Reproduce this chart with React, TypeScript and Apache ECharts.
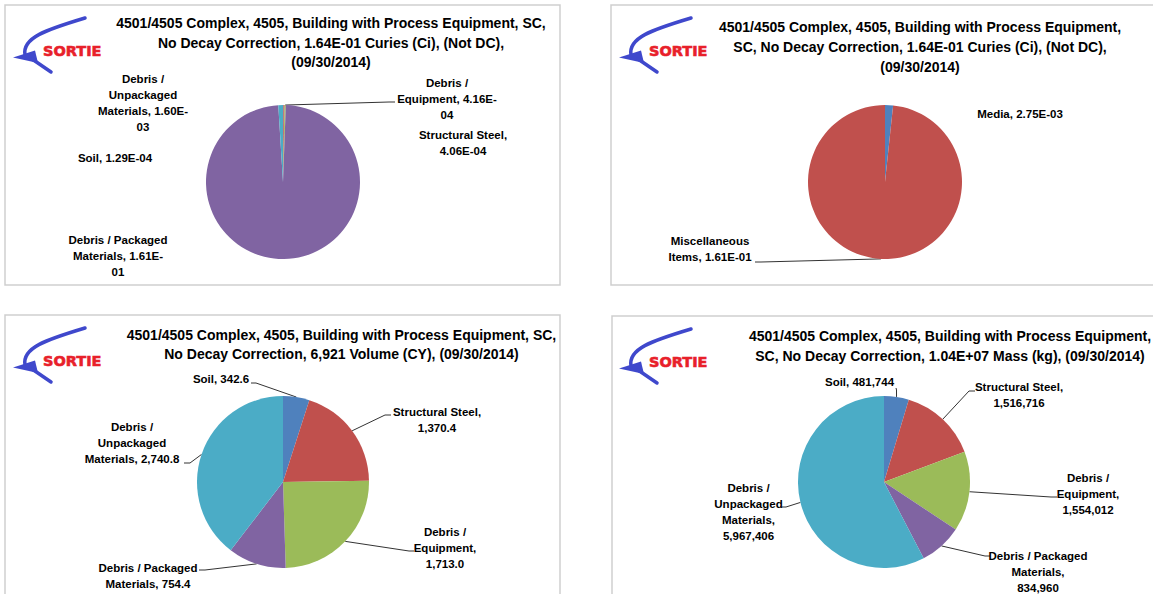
import React, { useEffect, useRef } from "react";
import * as echarts from "echarts";

// ---------- data ----------
const PALETTE = ["#4F81BD", "#C0504D", "#9BBB59", "#8064A2", "#4BACC6"];

const wasteCategories = [
  "Soil",
  "Structural Steel",
  "Debris / Equipment",
  "Debris / Packaged Materials",
  "Debris / Unpackaged Materials",
];
const curiesByCategory = [1.29e-4, 4.06e-4, 4.16e-4, 1.61e-1, 1.6e-3];

const containerCategories = ["Media", "Miscellaneous Items"];
const curiesByContainer = [2.75e-3, 1.61e-1];

const volumeByCategory = [342.6, 1370.4, 1713.0, 754.4, 2740.8];
const massByCategory = [481744, 1516716, 1554012, 834960, 5967406];

const titleCuriesCategory = [
  "4501/4505 Complex, 4505, Building with Process Equipment, SC,",
  "No Decay Correction, 1.64E-01 Curies (Ci), (Not DC),",
  "(09/30/2014)",
];
const titleCuriesContainer = [
  "4501/4505 Complex, 4505, Building with Process Equipment,",
  "SC, No Decay Correction, 1.64E-01 Curies (Ci), (Not DC),",
  "(09/30/2014)",
];
const titleVolume = [
  "4501/4505 Complex, 4505, Building with Process Equipment, SC,",
  "No Decay Correction, 6,921 Volume (CY), (09/30/2014)",
];
const titleMass = [
  "4501/4505 Complex, 4505, Building with Process Equipment,",
  "SC, No Decay Correction, 1.04E+07 Mass (kg), (09/30/2014)",
];
const logoText = "SORTIE";

// ---------- formatting ----------
const fmtExp = (v: number) => {
  const [m, e] = v.toExponential(2).split("e");
  const n = parseInt(e, 10);
  return `${m}E${n < 0 ? "-" : "+"}${String(Math.abs(n)).padStart(2, "0")}`;
};
const fmtOne = (v: number) =>
  v.toLocaleString("en-US", { minimumFractionDigits: 1, maximumFractionDigits: 1 });
const fmtInt = (v: number) => v.toLocaleString("en-US");

function wrap(text: string, max: number) {
  const tokens = text.match(/[^ -]*[ -]|[^ -]+$/g) || [text];
  const lines: string[] = [];
  let cur = "";
  for (const t of tokens) {
    const cand = cur + t;
    if (cur && cand.trimEnd().length > max) {
      lines.push(cur.trimEnd());
      cur = t;
    } else cur = cand;
  }
  if (cur) lines.push(cur.trimEnd());
  return lines.join("\n");
}

// ---------- layout ----------
const FONT = "'Liberation Sans', Arial, sans-serif";
const LOGO_FONT = "'DejaVu Sans', 'Liberation Sans', sans-serif";

type LabelPos = { x: number; y: number; line?: number[][]; max?: number };
type Panel = {
  names: string[];
  values: number[];
  fmt: (v: number) => string;
  colors: string[];
  center: [number, number];
  r: number;
  labels: LabelPos[];
  title: string[];
  titleX: number;
  titleY: number[];
  logo: [number, number];
  box: [number, number, number, number];
};

const panels: Panel[] = [
  {
    names: wasteCategories,
    values: curiesByCategory,
    fmt: fmtExp,
    colors: PALETTE,
    center: [283, 182],
    r: 77,
    labels: [
      { x: 115, y: 158 },
      { x: 463, y: 142.5 },
      { x: 447, y: 98.5, line: [[389, 102], [395, 102]] },
      { x: 118, y: 256 },
      { x: 143, y: 103 },
    ],
    title: titleCuriesCategory,
    titleX: 331,
    titleY: [23, 42.5, 62],
    logo: [0, 0],
    box: [5, 5, 555, 280],
  },
  {
    names: containerCategories,
    values: curiesByContainer,
    fmt: fmtExp,
    colors: PALETTE,
    center: [885, 182],
    r: 77,
    labels: [
      { x: 1020, y: 114 },
      { x: 710, y: 249, line: [[761, 262], [755, 262]] },
    ],
    title: titleCuriesContainer,
    titleX: 920,
    titleY: [27, 47, 67],
    logo: [606, 0],
    box: [611, 5, 560, 280],
  },
  {
    names: wasteCategories,
    values: volumeByCategory,
    fmt: fmtOne,
    colors: PALETTE,
    center: [283, 482],
    r: 86,
    labels: [
      { x: 221, y: 379, line: [[256, 383], [251, 383]] },
      { x: 437, y: 419.5, line: [[385, 415], [391, 415]] },
      { x: 445, y: 548, line: [[409, 551], [414, 551]] },
      { x: 148, y: 575.5, line: [[205, 570], [199, 570]] },
      { x: 132, y: 443, line: [[190, 463], [184, 463]], max: 18 },
    ],
    title: titleVolume,
    titleX: 341.5,
    titleY: [335, 354],
    logo: [0, 310],
    box: [5, 315, 555, 300],
  },
  {
    names: wasteCategories,
    values: massByCategory,
    fmt: fmtInt,
    colors: PALETTE,
    center: [884, 482],
    r: 86,
    labels: [
      { x: 859.5, y: 382, line: [[896.5, 390], [896, 388]] },
      { x: 1019, y: 395, line: [[969, 391], [975, 391]] },
      { x: 1088, y: 494, line: [[1051, 497], [1057, 497]] },
      { x: 1038, y: 572, line: [[985, 556], [990, 556]] },
      { x: 748.5, y: 511.5, line: [[786, 507], [782, 507]] },
    ],
    title: titleMass,
    titleX: 950,
    titleY: [336, 356],
    logo: [606, 311],
    box: [612, 316, 560, 300],
  },
];

function logoGraphics(dx: number, dy: number) {
  const blue = "#3F48CC";
  return [
    {
      type: "bezierCurve",
      shape: { x1: 85 + dx, y1: 18 + dy, cpx1: 45 + dx, cpy1: 30 + dy, cpx2: 22 + dx, cpy2: 38 + dy, x2: 25 + dx, y2: 55 + dy },
      style: { stroke: blue, lineWidth: 3.5, fill: "none", lineCap: "round" },
      silent: true,
    },
    {
      type: "polygon",
      shape: { points: [[13 + dx, 57.5 + dy], [35 + dx, 50.5 + dy], [38 + dx, 63 + dy]] },
      style: { fill: blue },
      silent: true,
    },
    {
      type: "line",
      shape: { x1: 32 + dx, y1: 59 + dy, x2: 51 + dx, y2: 72 + dy },
      style: { stroke: blue, lineWidth: 3.5, lineCap: "round" },
      silent: true,
    },
    {
      type: "text",
      x: 43 + dx,
      y: 51 + dy,
      style: {
        text: logoText,
        fill: "#E8202A",
        stroke: "#E8202A",
        lineWidth: 0.6,
        fontFamily: LOGO_FONT,
        fontSize: 14.5,
        fontWeight: "bold",
        align: "left",
        verticalAlign: "middle",
      },
      silent: true,
    },
  ];
}

function buildOption() {
  const graphic: any[] = [];
  panels.forEach((p) => {
    graphic.push({
      type: "rect",
      shape: { x: p.box[0], y: p.box[1], width: p.box[2], height: p.box[3] },
      style: { fill: "none", stroke: "#CFCFCF", lineWidth: 1.5 },
      silent: true,
      z: -1,
    });
    graphic.push(...logoGraphics(p.logo[0], p.logo[1]));
    p.title.forEach((t, i) => {
      graphic.push({
        type: "text",
        x: p.titleX,
        y: p.titleY[i],
        style: {
          text: t,
          fill: "#000",
          fontFamily: FONT,
          fontSize: 14,
          fontWeight: "bold",
          align: "center",
          verticalAlign: "middle",
        },
        silent: true,
      });
    });
  });

  const series = panels.map((p) => ({
    type: "pie",
    center: p.center,
    radius: p.r,
    startAngle: 90,
    clockwise: true,
    avoidLabelOverlap: false,
    silent: true,
    emphasis: { disabled: true },
    itemStyle: { borderWidth: 0 },
    data: p.names.map((n, j) => ({
      name: n,
      value: p.values[j],
      itemStyle: { color: p.colors[j] },
      labelLine: { show: !!p.labels[j].line },
    })),
    label: {
      show: true,
      position: "outside",
      formatter: (params: any) =>
        wrap(`${params.name}, ${p.fmt(params.value)}`, p.labels[params.dataIndex].max ?? 17),
      color: "#000",
      fontFamily: FONT,
      fontSize: 11.5,
      fontWeight: "bold",
      lineHeight: 16,
      align: "center",
    },
    labelLine: {
      show: true,
      length: 6,
      length2: 6,
      smooth: false,
      lineStyle: { color: "#333", width: 1 },
    },
    labelLayout: (params: any) => {
      const L = p.labels[params.dataIndex];
      const res: any = { x: L.x, y: L.y, align: "center", verticalAlign: "middle" };
      if (L.line && params.labelLinePoints && params.labelLinePoints[0]) {
        res.labelLinePoints = [params.labelLinePoints[0], ...L.line];
      }
      return res;
    },
  }));

  return {
    animation: false,
    backgroundColor: "#ffffff",
    graphic,
    series,
  };
}

export default function App() {
  const ref = useRef<HTMLDivElement>(null);
  useEffect(() => {
    if (!ref.current) return;
    const chart = echarts.init(ref.current, undefined, { renderer: "svg" });
    chart.setOption(buildOption() as any);
    return () => chart.dispose();
  }, []);
  return (
    <div
      ref={ref}
      style={{ position: "absolute", left: 0, top: 0, width: 1153, height: 594, background: "#fff" }}
    />
  );
}
